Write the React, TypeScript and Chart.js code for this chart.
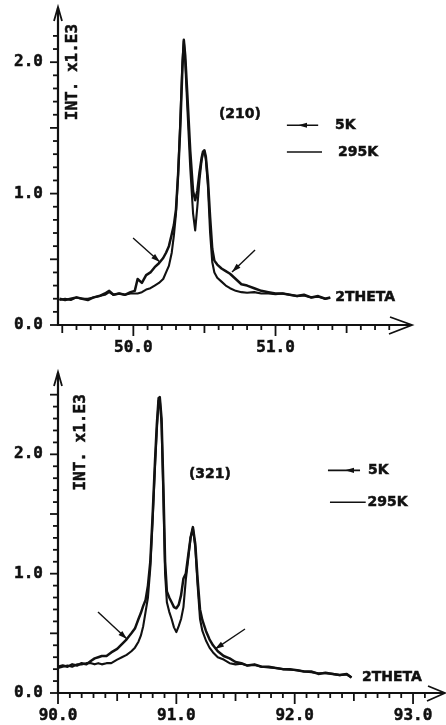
import { useEffect, useRef } from 'react';
import { Chart, registerables } from 'chart.js';

Chart.register(...registerables);

// ---------- data: (210) reflection ----------
const theta210 = [
  49.48, 49.52, 49.56, 49.60, 49.64, 49.68, 49.72, 49.76, 49.80, 49.83, 49.86, 49.90, 49.94, 49.98,
  50.01, 50.03, 50.06, 50.09, 50.12, 50.15, 50.18, 50.21, 50.23, 50.25, 50.27, 50.285, 50.30, 50.315,
  50.33, 50.345, 50.355, 50.365, 50.38, 50.40, 50.42, 50.435, 50.45, 50.465, 50.48, 50.49, 50.50,
  50.51, 50.525, 50.54, 50.555, 50.57, 50.59, 50.62, 50.65, 50.68, 50.72, 50.76, 50.80, 50.85, 50.90,
  50.95, 51.00, 51.05, 51.10, 51.15, 51.20, 51.25, 51.30, 51.35, 51.385,
];
const int210_5K = [
  0.20, 0.19, 0.20, 0.21, 0.20, 0.19, 0.21, 0.22, 0.24, 0.26, 0.23, 0.24, 0.23, 0.25,
  0.26, 0.35, 0.32, 0.38, 0.40, 0.44, 0.47, 0.51, 0.55, 0.60, 0.69, 0.76, 0.88, 1.15,
  1.50, 1.95, 2.17, 2.05, 1.75, 1.33, 1.02, 0.95, 1.02, 1.16, 1.27, 1.32, 1.33,
  1.28, 1.10, 0.82, 0.58, 0.49, 0.46, 0.43, 0.41, 0.39, 0.35, 0.31, 0.30, 0.28, 0.26,
  0.25, 0.24, 0.24, 0.23, 0.22, 0.23, 0.21, 0.22, 0.20, 0.21,
];
const int210_295K = [
  0.19, 0.20, 0.19, 0.21, 0.20, 0.20, 0.21, 0.22, 0.23, 0.25, 0.23, 0.24, 0.23, 0.24,
  0.24, 0.24, 0.25, 0.27, 0.28, 0.30, 0.32, 0.35, 0.40, 0.45, 0.55, 0.68, 0.85, 1.15,
  1.55, 2.00, 2.16, 2.00, 1.65, 1.20, 0.85, 0.72, 0.90, 1.10, 1.25, 1.31, 1.32,
  1.26, 1.05, 0.70, 0.48, 0.40, 0.36, 0.33, 0.30, 0.28, 0.26, 0.25, 0.245, 0.25, 0.24,
  0.24, 0.235, 0.24, 0.23, 0.22, 0.225, 0.21, 0.215, 0.20, 0.205,
];

// ---------- data: (321) reflection ----------
const theta321 = [
  90.00, 90.04, 90.08, 90.12, 90.16, 90.20, 90.24, 90.28, 90.31, 90.34, 90.37, 90.41, 90.45, 90.50,
  90.54, 90.58, 90.62, 90.65, 90.68, 90.70, 90.72, 90.74, 90.76, 90.78, 90.80, 90.82, 90.835, 90.85,
  90.86, 90.875, 90.89, 90.905, 90.92, 90.94, 90.96, 90.98, 91.00, 91.02, 91.04, 91.06, 91.08, 91.10,
  91.12, 91.14, 91.16, 91.18, 91.20, 91.22, 91.25, 91.28, 91.31, 91.35, 91.40, 91.45, 91.50, 91.55,
  91.60, 91.66, 91.72, 91.78, 91.84, 91.90, 91.96, 92.02, 92.08, 92.14, 92.20, 92.26, 92.32, 92.38,
  92.44, 92.48,
];
const int321_5K = [
  0.22, 0.23, 0.22, 0.24, 0.23, 0.25, 0.24, 0.27, 0.29, 0.30, 0.31, 0.31, 0.34, 0.37,
  0.41, 0.45, 0.50, 0.54, 0.62, 0.67, 0.73, 0.78, 0.90, 1.10, 1.50, 1.95, 2.25, 2.47,
  2.48, 2.30, 1.75, 1.10, 0.85, 0.80, 0.76, 0.72, 0.71, 0.74, 0.82, 0.96, 1.00, 1.15,
  1.30, 1.39, 1.25, 0.95, 0.70, 0.61, 0.52, 0.45, 0.40, 0.35, 0.31, 0.29, 0.26, 0.25,
  0.23, 0.24, 0.22, 0.22, 0.21, 0.20, 0.20, 0.19, 0.18, 0.18, 0.16, 0.17, 0.16, 0.15,
  0.16, 0.13,
];
const int321_295K = [
  0.21, 0.22, 0.23, 0.22, 0.24, 0.24, 0.25, 0.25, 0.24, 0.25, 0.24, 0.25, 0.25, 0.28,
  0.30, 0.32, 0.35, 0.38, 0.43, 0.48, 0.56, 0.68, 0.80, 1.05, 1.45, 1.90, 2.20, 2.45,
  2.46, 2.25, 1.65, 1.00, 0.76, 0.68, 0.62, 0.55, 0.51, 0.56, 0.62, 0.72, 0.95, 1.12,
  1.30, 1.38, 1.22, 0.90, 0.62, 0.52, 0.44, 0.38, 0.34, 0.30, 0.28, 0.25, 0.24, 0.245,
  0.23, 0.235, 0.22, 0.215, 0.21, 0.20, 0.195, 0.19, 0.18, 0.175, 0.165, 0.165, 0.16, 0.15,
  0.155, 0.13,
];

// ---------- tick labels ----------
const yTickValues = [0, 1, 2];
const yTickLabels = ['0.0', '1.0', '2.0'];
const xTickValues210 = [50, 51];
const xTickLabels210 = ['50.0', '51.0'];
const xTickValues321 = [90, 91, 92, 93];
const xTickLabels321 = ['90.0', '91.0', '92.0', '93.0'];
const seriesNames = ['5K', '295K'];
const hkl210 = '(210)';
const hkl321 = '(321)';
const xTitle = '2THETA';
const yTitle = 'INT. x1.E3';

const INK = '#111111';
const MONO = '"DejaVu Sans Mono", monospace';
const SANS = '"DejaVu Sans", sans-serif';

type Pt = [number, number];
type Spec = {
  top: number;
  height: number;
  padding: { left: number; right: number; top: number; bottom: number };
  xMin: number;
  xMax: number;
  yMax: number;
  xTickFrom: number;
  xTickTo: number;
  yTickTo: number;
  theta: number[];
  s5K: number[];
  s295K: number[];
  xLabelValues: number[];
  xLabels: string[];
  hkl: { text: string; at: Pt };
  leg5K: { x1: number; x2: number; tip: number; y: number; tx: number };
  leg295K: { x1: number; x2: number; y: number; tx: number };
  thetaAt: Pt;
  yTitleAt: Pt;
  pointers: [Pt, Pt][];
  xArrow: { len: number; up: number; down: number };
};

const panels: Spec[] = [
  {
    top: 0,
    height: 362,
    padding: { left: 58, right: 34, top: 7, bottom: 37 },
    xMin: 49.47,
    xMax: 51.96,
    yMax: 2.42,
    xTickFrom: 49.5,
    xTickTo: 51.8,
    yTickTo: 2.2,
    theta: theta210,
    s5K: int210_5K,
    s295K: int210_295K,
    xLabelValues: xTickValues210,
    xLabels: xTickLabels210,
    hkl: { text: hkl210, at: [50.75, 1.6] },
    leg5K: { x1: 51.08, x2: 51.30, tip: 51.158, y: 1.52, tx: 51.418 },
    leg295K: { x1: 51.08, x2: 51.327, y: 1.317, tx: 51.44 },
    thetaAt: [51.42, 0.213],
    yTitleAt: [49.575, 1.925],
    pointers: [
      [[49.998, 0.662], [50.187, 0.479]],
      [[50.856, 0.571], [50.694, 0.403]],
    ],
    xArrow: { len: 22, up: 8, down: 9 },
  },
  {
    top: 362,
    height: 363,
    padding: { left: 58, right: 1, top: 10, bottom: 32 },
    xMin: 90,
    xMax: 93.27,
    yMax: 2.69,
    xTickFrom: 90.0,
    xTickTo: 93.1,
    yTickTo: 2.5,
    theta: theta321,
    s5K: int321_5K,
    s295K: int321_295K,
    xLabelValues: xTickValues321,
    xLabels: xTickLabels321,
    hkl: { text: hkl321, at: [91.284, 1.833] },
    leg5K: { x1: 92.281, x2: 92.552, tip: 92.425, y: 1.866, tx: 92.619 },
    leg295K: { x1: 92.298, x2: 92.60, y: 1.598, tx: 92.615 },
    thetaAt: [92.569, 0.134],
    yTitleAt: [90.194, 2.1],
    pointers: [
      [[90.338, 0.678], [90.583, 0.452]],
      [[91.58, 0.536], [91.327, 0.368]],
    ],
    xArrow: { len: 17, up: 7, down: 8 },
  },
];

function makePlugin(spec: Spec) {
  return {
    id: 'plotterAxes',
    afterDraw(chart: any) {
      const ctx: CanvasRenderingContext2D = chart.ctx;
      const xs = chart.scales.x;
      const ys = chart.scales.y;
      const px = (v: number) => xs.getPixelForValue(v);
      const py = (v: number) => ys.getPixelForValue(v);
      const area = chart.chartArea;
      const line = (x1: number, y1: number, x2: number, y2: number) => {
        ctx.beginPath();
        ctx.moveTo(x1, y1);
        ctx.lineTo(x2, y2);
        ctx.stroke();
      };
      const poly = (pts: Pt[]) => {
        ctx.beginPath();
        pts.forEach(([x, y], i) => (i ? ctx.lineTo(x, y) : ctx.moveTo(x, y)));
        ctx.stroke();
      };
      const head = (tx: number, ty: number, fx: number, fy: number, len: number, hw: number) => {
        const dx = tx - fx;
        const dy = ty - fy;
        const d = Math.hypot(dx, dy) || 1;
        const ux = dx / d;
        const uy = dy / d;
        const bx = tx - ux * len;
        const by = ty - uy * len;
        ctx.beginPath();
        ctx.moveTo(tx, ty);
        ctx.lineTo(bx - uy * hw, by + ux * hw);
        ctx.lineTo(bx + uy * hw, by - ux * hw);
        ctx.closePath();
        ctx.fill();
      };
      const text = (s: string, x: number, y: number, font: string, align: CanvasTextAlign, rot = 0) => {
        ctx.save();
        ctx.font = font;
        ctx.textAlign = align;
        ctx.textBaseline = 'middle';
        ctx.translate(x, y);
        if (rot) ctx.rotate(rot);
        ctx.fillText(s, 0, 0);
        ctx.lineWidth = 0.5;
        ctx.strokeText(s, 0, 0);
        ctx.restore();
      };

      ctx.save();
      ctx.strokeStyle = INK;
      ctx.fillStyle = INK;
      const x0 = area.left;
      const y0 = py(0);

      // axes
      ctx.lineWidth = 2.2;
      line(x0, y0 + 1, x0, area.top + 1);
      line(x0 - 1, y0, area.right - 1, y0);
      ctx.lineWidth = 1.8;
      poly([
        [x0 - 4, area.top + 14],
        [x0, area.top],
        [x0 + 4, area.top + 14],
      ]);
      const tip = area.right;
      poly([
        [tip - spec.xArrow.len, y0 - spec.xArrow.up],
        [tip, y0],
        [tip - spec.xArrow.len - 1, y0 + spec.xArrow.down],
      ]);

      // y ticks
      ctx.lineWidth = 1.8;
      const yN = Math.round(spec.yTickTo * 10);
      for (let i = 0; i <= yN; i++) {
        const y = py(i / 10);
        const len = i % 5 === 0 ? 8 : 5;
        line(x0 - len, y, x0 + 1, y);
      }
      // x ticks
      const k0 = Math.round(spec.xTickFrom * 10);
      const k1 = Math.round(spec.xTickTo * 10);
      for (let k = k0; k <= k1; k++) {
        const x = px(k / 10);
        const len = k % 10 === 0 ? 11 : k % 5 === 0 ? 8 : 5;
        line(x, y0, x, y0 + len);
      }

      // tick labels
      ctx.strokeStyle = INK;
      const tickFont = `bold 16px ${MONO}`;
      yTickValues.forEach((v, i) => text(yTickLabels[i], x0 - 15, py(v), tickFont, 'right'));
      spec.xLabelValues.forEach((v, i) => text(spec.xLabels[i], px(v), y0 + 23, tickFont, 'center'));

      // titles & annotations
      text(yTitle, px(spec.yTitleAt[0]), py(spec.yTitleAt[1]), `bold 16px ${MONO}`, 'center', -Math.PI / 2);
      text(xTitle, px(spec.thetaAt[0]), py(spec.thetaAt[1]), `bold 14px ${SANS}`, 'left');
      text(spec.hkl.text, px(spec.hkl.at[0]), py(spec.hkl.at[1]), `bold 14px ${SANS}`, 'center');

      // legend
      ctx.lineWidth = 1.6;
      const l5 = spec.leg5K;
      line(px(l5.x1), py(l5.y), px(l5.x2), py(l5.y));
      head(px(l5.tip), py(l5.y), px(l5.tip) + 10, py(l5.y), 9, 2.6);
      text(seriesNames[0], px(l5.tx), py(l5.y), `bold 14px ${SANS}`, 'left');
      ctx.lineWidth = 1.6;
      const l2 = spec.leg295K;
      line(px(l2.x1), py(l2.y), px(l2.x2), py(l2.y));
      text(seriesNames[1], px(l2.tx), py(l2.y), `bold 14px ${SANS}`, 'left');

      // pointer arrows
      ctx.lineWidth = 1.4;
      spec.pointers.forEach(([a, b]) => {
        const ax = px(a[0]);
        const ay = py(a[1]);
        const bx = px(b[0]);
        const by = py(b[1]);
        line(ax, ay, bx, by);
        head(bx, by, ax, ay, 9, 2.8);
      });
      ctx.restore();
    },
  };
}

function Panel({ spec }: { spec: Spec }) {
  const ref = useRef<HTMLCanvasElement | null>(null);
  useEffect(() => {
    if (!ref.current) return;
    const toPts = (ys: number[]) => spec.theta.map((x, i) => ({ x, y: ys[i] }));
    const chart = new Chart(ref.current, {
      type: 'line',
      data: {
        datasets: [
          {
            label: seriesNames[0],
            data: toPts(spec.s5K),
            borderColor: INK,
            borderWidth: 2.5,
            borderJoinStyle: 'round',
            pointRadius: 0,
            tension: 0,
            fill: false,
          },
          {
            label: seriesNames[1],
            data: toPts(spec.s295K),
            borderColor: INK,
            borderWidth: 2.1,
            borderJoinStyle: 'round',
            pointRadius: 0,
            tension: 0,
            fill: false,
          },
        ],
      },
      options: {
        animation: false,
        responsive: false,
        maintainAspectRatio: false,
        devicePixelRatio: 1,
        layout: { padding: spec.padding },
        scales: {
          x: { type: 'linear', min: spec.xMin, max: spec.xMax, display: false },
          y: { type: 'linear', min: 0, max: spec.yMax, display: false },
        },
        plugins: {
          legend: { display: false },
          tooltip: { enabled: false },
          title: { display: false },
        },
      },
      plugins: [makePlugin(spec)],
    } as any);
    return () => chart.destroy();
  }, [spec]);
  return (
    <canvas
      ref={ref}
      width={446}
      height={spec.height}
      style={{ position: 'absolute', left: 0, top: spec.top, width: 446, height: spec.height }}
    />
  );
}

export default function App() {
  return (
    <div style={{ position: 'absolute', left: 0, top: 0, width: 446, height: 725, background: '#ffffff' }}>
      {panels.map((p, i) => (
        <Panel key={i} spec={p} />
      ))}
    </div>
  );
}
